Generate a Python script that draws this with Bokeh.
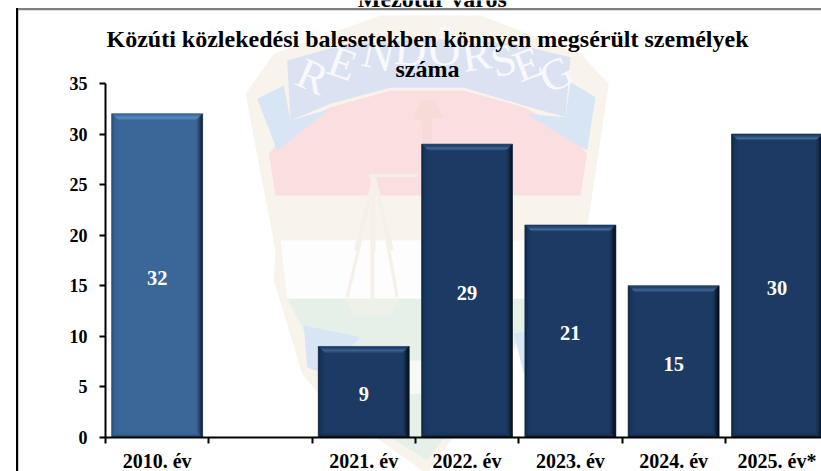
from bokeh.plotting import figure
from bokeh.layouts import column
from bokeh.embed import file_html
from bokeh.resources import INLINE
from bokeh.core.properties import value
from bokeh.models import ColumnDataSource, FixedTicker, LinearAxis, Range1d

# ---- data ----
positions = [0, 2, 3, 4, 5, 6]
categories = ["2010. év", "2021. év", "2022. év", "2023. év", "2024. év", "2025. év*"]
values = [32, 9, 29, 21, 15, 30]
y_ticks = [0, 5, 10, 15, 20, 25, 30, 35]
title_line1 = "Közúti közlekedési balesetekben könnyen megsérült személyek"
title_line2 = "száma"
super_title = "Mezőtúr város"

FONT = "Liberation Serif"
W, H = 821, 471
EXTRA = 4
LEFT, BOTTOM, TOP = 105, 34 + EXTRA, 83
CAT_PX = 103.3
FRAME_H = H + EXTRA - BOTTOM - TOP
BAR_W = 0.88
DX, DY = 1 / CAT_PX, 35 / FRAME_H

# ---- backdrop figure: its frame is the whole page, its units are page pixels ----
bg = figure(width=W, height=H, output_backend="svg", toolbar_location=None,
            x_range=Range1d(0, W), y_range=Range1d(H, 0), x_axis_type=None, y_axis_type=None,
            min_border=0, outline_line_color=None, background_fill_color="white", border_fill_color="white",
            margin=(0, 0, 0, 0))
bg.grid.visible = False


def poly(points, color):
    bg.patch([q[0] for q in points], [q[1] for q in points], fill_color=color, line_color=None)


def z5(pts):
    return [(230 + a / 3, 10 + b / 3) for a, b in pts]


def z6(pts):
    return [(230 + a / 3, 240 + b / 3) for a, b in pts]


BEIGE, RED, BLUE, TAIL, GREEN = "#f8f4ec", "#fbdfe0", "#dbe3f2", "#d8e5f4", "#e4f0e8"
poly(z5([(45, 250), (130, 130), (450, 15), (750, 15), (1050, 130), (1135, 220), (1060, 720)]) +
     z6([(950, 120), (900, 260), (590, 700), (280, 480), (215, 400), (130, 120)]) + z5([(135, 720)]), BEIGE)
poly(z6([(150, 0), (1030, 0), (1000, 170), (900, 250), (590, 660), (300, 480), (215, 260), (170, 170)]), "#fdfdfd")
poly(z5([(115, 430), (190, 345), (300, 290), (480, 240), (700, 240), (880, 290), (1000, 350), (1070, 430), (1050, 555), (135, 555)]), RED)
poly(z5([(80, 265), (160, 225), (180, 330), (300, 295), (140, 420)]), TAIL)
poly(z5([(1095, 260), (1020, 215), (1005, 320), (885, 310), (1070, 420)]), TAIL)
poly(z5([(170, 150), (350, 100), (600, 85), (850, 100), (1020, 140), (1005, 320), (880, 285), (700, 232), (480, 232), (300, 280), (180, 330)]), BLUE)
poly(z6([(170, 175), (1000, 175), (900, 250), (590, 660), (300, 480), (215, 260)]), GREEN)
poly(z6([(220, 255), (390, 290), (280, 400), (230, 380)]), TAIL)
poly(z6([(850, 280), (1000, 250), (960, 340), (880, 400)]), TAIL)
poly(z6([(530, 360), (575, 360), (575, 460), (530, 460)]), "#f8f8f6")
# scales of the crest
SCALE = "#f6f1e8"
poly(z5([(415, 490), (560, 490), (560, 500), (415, 500)]), "#f4eee4")
poly(z5([(420, 495), (435, 495), (435, 720), (420, 720)]), SCALE)
poly(z5([(425, 500), (438, 505), (385, 720), (370, 720)]), SCALE)
poly(z5([(425, 500), (438, 505), (490, 720), (475, 720)]), SCALE)
poly(z6([(385, 0), (395, 0), (355, 170), (345, 170)]), SCALE)
poly(z6([(465, 0), (475, 0), (505, 170), (495, 170)]), SCALE)
poly(z6([(420, 0), (432, 0), (432, 190), (420, 190)]), SCALE)
poly(z6([(342, 175), (505, 175), (480, 225), (370, 225)]), "#eef1e8")
poly(z5([(575, 270), (610, 270), (640, 320), (605, 325), (605, 400), (575, 400), (575, 330), (545, 325)]), "#f6dcd9")

# RENDŐRSÉG on the ribbon
crest_letters = ["R", "E", "N", "D", "Ő", "R", "S", "É", "G"]
crest_x = [312, 342, 378, 410, 444, 476, 503, 527, 556]
crest_y = [76, 63, 54, 50, 50, 55, 60, 64, 74]
crest_angle = [0.42, 0.34, 0.22, 0.08, -0.04, -0.14, -0.26, -0.36, -0.46]
bg.text(crest_x, crest_y, text=crest_letters, angle=[-a for a in crest_angle], text_font=value(FONT),
        text_font_size="44px", text_color="#f8f9fc", text_align="center", text_baseline="middle")

# frame rules of the pasted slide
bg.segment([16], [8.8], [W], [8.8], line_color="#7f7f7f", line_width=2)
bg.segment([16.7], [8], [16.7], [H], line_color="#000000", line_width=2)

# titles
for txt, x, y, size in [(super_title, 432, -2, "24px"), (title_line1, 427, 38, "24px"), (title_line2, 427, 68, "24px")]:
    bg.text([x], [y], text=[txt], text_font=value(FONT), text_font_style="bold", text_font_size=size,
            text_color="black", text_align="center", text_baseline="middle")

# ---- chart figure, transparent, laid over the backdrop ----
p = figure(width=W, height=H + EXTRA, output_backend="svg", toolbar_location=None,
           x_range=Range1d(0, (W - LEFT) / CAT_PX), y_range=Range1d(0, 35),
           x_axis_type=None, y_axis_type=None,
           min_border_left=LEFT, min_border_right=0, min_border_top=TOP, min_border_bottom=BOTTOM,
           outline_line_color=None, background_fill_alpha=0, border_fill_color=None,
           margin=(0, 0, 0, 0),
           styles={"background-image": "linear-gradient(#000000,#000000), linear-gradient(#7f7f7f,#7f7f7f)",
                   "background-size": "2px 463px, 805px 2px",
                   "background-position": "16px 8px, 16px 8px",
                   "background-repeat": "no-repeat"})
p.grid.visible = False

bars = ColumnDataSource(dict(x=[q + 0.5 for q in positions], top=values, half=[v / 2 for v in values],
                             label=[str(v) for v in values],
                             color=["#3b6698" if q == 0 else "#1c3a63" for q in positions]))
p.vbar(x="x", top="top", width=BAR_W, source=bars, fill_color="color", line_color="#8794a6", line_width=1)

PAL = {
    True: dict(top=["#3a659b", "#4370a6", "#4c7bb2", "#5a89bf", "#6593c8", "#4c76a8"],
               bottom=["#244268", "#2a4c76", "#2f5582", "#34608f", "#39659a", "#3b6698"],
               left=["#27486f", "#2e5582", "#355f90", "#3a6597", "#3b6698", "#3b6698"],
               right=["#11202f", "#16283f", "#1d3350", "#264264", "#2e5079", "#355c8a"]),
    False: dict(top=["#1c3a63", "#234470", "#2a4e7c", "#365b88", "#4a6f98", "#2f507a"],
                bottom=["#0f2039", "#132846", "#172f50", "#1a3459", "#1b385f", "#1c3a63"],
                left=["#12263f", "#16304f", "#193558", "#1b385f", "#1c3a63", "#1c3a63"],
                right=["#060d18", "#091423", "#0d1c30", "#11243f", "#16304f", "#1a3659"]),
}
xs, ys, cs = [], [], []
for pos, v in zip(positions, values):
    x0, x1 = pos + 0.5 - BAR_W / 2, pos + 0.5 + BAR_W / 2
    pal = PAL[pos == 0]
    for i in range(6):
        a, b = i, i + 1
        xa0, xa1, xb0, xb1 = x0 + a * DX, x1 - a * DX, x0 + b * DX, x1 - b * DX
        ta, tb, ba, bb = v - a * DY, v - b * DY, a * DY, b * DY
        for x_, y_, c_ in [
            ([xa0, xa1, xb1, xb0], [ta, ta, tb, tb], pal["top"][i]),
            ([xa0, xa1, xb1, xb0], [ba, ba, bb, bb], pal["bottom"][i]),
            ([xa0, xb0, xb0, xa0], [ba, bb, tb, ta], pal["left"][i]),
            ([xa1, xb1, xb1, xa1], [ba, bb, tb, ta], pal["right"][i]),
        ]:
            xs.append(x_); ys.append(y_); cs.append(c_)
p.patches(xs, ys, fill_color=cs, line_color=cs, line_width=0.3)

p.text(x="x", y="half", text="label", source=bars, text_color="white", text_font=value(FONT),
       text_font_style="bold", text_font_size="20.5px", text_align="center", text_baseline="middle",
       y_offset=2)

# ---- axes ----
yaxis = LinearAxis(ticker=FixedTicker(ticks=y_ticks), axis_line_color="black", axis_line_width=2,
                   major_tick_line_color="black", major_tick_line_width=2, major_tick_in=0, major_tick_out=6,
                   minor_tick_line_color=None, major_label_standoff=12,
                   major_label_text_font=FONT, major_label_text_font_style="bold",
                   major_label_text_font_size="18px", major_label_text_color="black")
p.add_layout(yaxis, "left")
centers = [q + 0.5 for q in positions]
boundaries = list(range(0, 7))
xaxis = LinearAxis(ticker=FixedTicker(ticks=centers, minor_ticks=boundaries),
                   major_label_overrides=dict(zip(centers, categories)),
                   axis_line_color="black", axis_line_width=2,
                   major_tick_line_color=None, major_tick_in=0, major_tick_out=0,
                   minor_tick_line_color="black", minor_tick_line_width=2, minor_tick_in=0, minor_tick_out=6,
                   major_label_standoff=6, major_label_text_font=FONT, major_label_text_font_style="bold",
                   major_label_text_font_size="20px", major_label_text_color="black")
p.add_layout(xaxis, "below")

page = column(column(bg, margin=(0, 0, 0, 0)), column(p, margin=(-H, 0, -EXTRA, 0)), margin=(0, 0, 0, 0))
open("out.html", "w").write(file_html(page, INLINE))
